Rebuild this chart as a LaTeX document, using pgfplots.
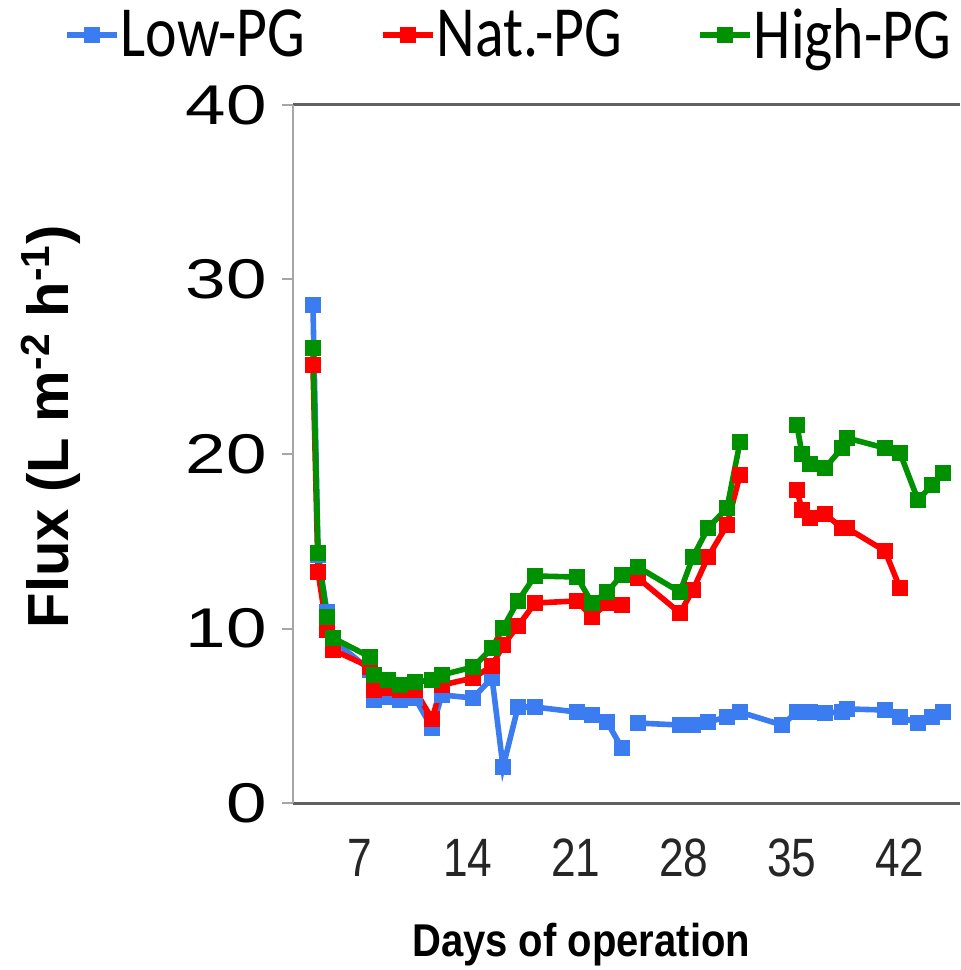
\documentclass[border=0pt]{standalone}
\usepackage{pgfplots}
\pgfplotsset{compat=1.18}
\usepackage{fontspec}
\setmainfont{Liberation Sans}
\newfontfamily\narrowfont[FakeStretch=0.82]{Liberation Sans}
\newfontfamily\widefont[FakeStretch=1.3]{Liberation Sans}
\newfontfamily\xlabfont[FakeStretch=0.87]{Liberation Sans}
\newfontfamily\legfont[FakeStretch=0.83]{Carlito}
\definecolor{cblue}{RGB}{59,125,240}
\definecolor{cred}{RGB}{255,0,0}
\definecolor{cgreen}{RGB}{0,145,0}
\pgfplotstableread{
day val
3.95 28.54
4.28 14.21
4.86 10.95
5.25 9.34
7.65 7.62
7.91 5.90
8.81 6.07
9.59 5.90
10.56 6.02
11.67 4.30
12.31 6.19
14.32 6.02
15.56 7.16
16.27 2.06
17.24 5.50
18.34 5.50
21.07 5.21
22.04 5.04
23.01 4.64
23.98 3.15
24.50 nan
25.02 4.58
27.74 4.47
28.58 4.47
29.56 4.64
30.79 4.93
31.63 5.21
34.35 4.47
35.32 5.21
35.65 5.21
36.17 5.21
37.14 5.16
38.24 5.21
38.56 5.39
41.03 5.33
42.00 4.93
43.17 4.58
44.07 4.93
44.79 5.21
}\lowpg
\pgfplotstableread{
day val
3.95 25.10
4.28 13.24
4.86 9.91
5.25 8.77
7.65 7.79
7.91 6.48
8.81 6.59
9.59 6.48
10.56 6.48
11.67 4.81
12.31 6.76
14.32 7.16
15.56 7.85
16.27 9.05
17.24 10.14
18.34 11.46
21.07 11.58
22.04 10.66
23.01 11.46
23.98 11.35
24.50 nan
25.02 12.89
27.74 10.89
28.58 12.21
29.56 14.10
30.79 15.93
31.63 18.80
33.50 nan
35.32 17.94
35.65 16.79
36.17 16.33
37.14 16.56
38.24 15.76
38.56 15.76
41.03 14.44
42.00 12.32
}\natpg
\pgfplotstableread{
day val
3.95 26.07
4.28 14.33
4.86 10.66
5.25 9.46
7.65 8.37
7.91 7.34
8.81 7.05
9.59 6.76
10.56 6.93
11.67 7.05
12.31 7.34
14.32 7.79
15.56 8.88
16.27 10.03
17.24 11.58
18.34 13.01
21.07 12.95
22.04 11.46
23.01 12.09
23.98 13.07
25.02 13.52
27.74 12.09
28.58 14.10
29.56 15.76
30.79 16.91
31.63 20.69
33.50 nan
35.32 21.66
35.65 20.00
36.17 19.43
37.14 19.20
38.24 20.34
38.56 20.92
41.03 20.34
42.00 20.06
43.17 17.36
44.07 18.22
44.79 18.91
}\highpg
\begin{document}
\begin{tikzpicture}
\begin{axis}[
  at={(0,0)}, anchor=south west,
  scale only axis, width=333.5pt, height=349pt,
  xmin=2.657, xmax=45.89, ymin=0, ymax=40,
  axis x line=box, axis y line=left,
  x axis line style={-, draw=black!62, line width=1.5pt},
  y axis line style={-, draw=black!35, line width=1.2pt},
  ytick={0,10,20,30,40},
  xtick={7,14,21,28,35,42},
  xticklabels={7,14,21,28,\raisebox{2.5pt}{35},\raisebox{5.5pt}{42}},
  tick align=outside,
  major tick length=5.5pt,
  ytick style={draw=black!35, line width=1pt},
  xtick style={draw=none},
  /pgf/number format/assume math mode=true,
  yticklabel style={font=\widefont\fontsize{28}{28}\selectfont, text=black, xshift=-4pt},
  xticklabel style={font=\narrowfont\fontsize{27}{27}\selectfont, text=black!85, yshift=-9pt},
  every axis y label/.style={at={(axis description cs:-0.363,0.539)}, rotate=90, anchor=center},
  every axis x label/.style={at={(axis description cs:0.432,-0.2034)}, anchor=center},
  ylabel={\bfseries\fontsize{29}{29}\selectfont Flux (L m\textsuperscript{-2} h\textsuperscript{-1})},
  xlabel={\xlabfont\bfseries\fontsize{23}{23}\selectfont Days of operation},
  unbounded coords=jump,
  clip=false,
  legend columns=3,
  legend style={at={(axis description cs:-0.3433,1.1003)}, anchor=west, draw=none, fill=none,
    font=\legfont\fontsize{36}{36}\selectfont, inner sep=0pt, outer sep=0pt,
    nodes={inner sep=0.5pt},
    /tikz/every even column/.append style={column sep=37pt}},
  legend cell align=left,
  legend image code/.code={\draw[mark repeat=2,mark phase=2,#1] plot coordinates {(0pt,0pt) (12.5pt,0pt) (25pt,0pt)};},
]
\addplot[cblue, line width=2.8pt, mark=square*, mark size=3.6pt, mark options={line width=0.5pt}] table[x=day,y=val] {\lowpg};
\addlegendentry{Low-PG}
\addplot[cred, line width=2.8pt, mark=square*, mark size=3.6pt, mark options={line width=0.5pt}] table[x=day,y=val] {\natpg};
\addlegendentry{Nat.-PG}
\addplot[cgreen, line width=2.8pt, mark=square*, mark size=3.6pt, mark options={line width=0.5pt}] table[x=day,y=val] {\highpg};
\addlegendentry{High-PG}
\end{axis}
\pgfresetboundingbox
\useasboundingbox (-146.5pt,-83.5pt) rectangle (333.5pt,401.5pt);
\end{tikzpicture}
\end{document}
